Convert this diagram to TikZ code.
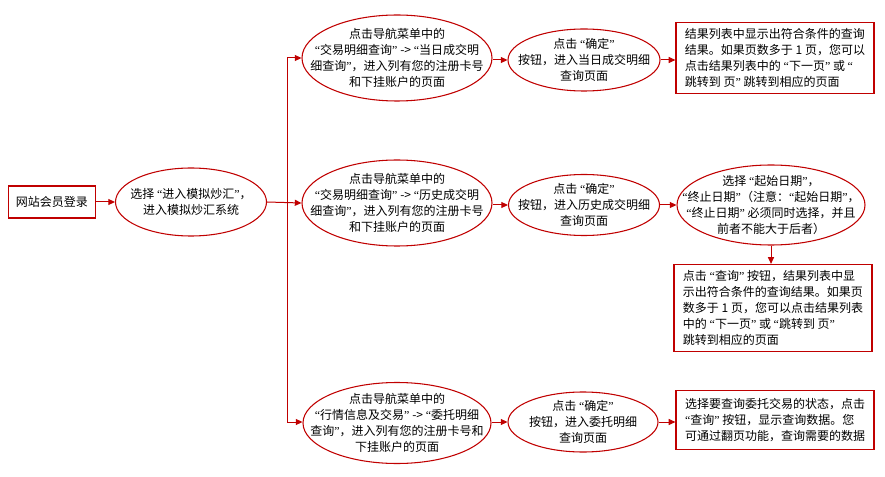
\documentclass[tikz,border=0pt]{standalone}
\usepackage{fontspec}
\setmainfont{Noto Sans CJK SC}
\newfontfamily\latf{Liberation Serif}
\newcommand\qo{{\latf “}}
\newcommand\qc{{\latf ”}}
\usetikzlibrary{shapes.geometric,arrows.meta}
\definecolor{dred}{HTML}{C00000}
\begin{document}
\begin{tikzpicture}[x=0.75pt,y=-0.75pt,
  font=\fontsize{9pt}{12pt}\selectfont,
  conn/.style={draw=dred,line width=0.75pt},
  arr/.style={conn,-{Triangle[length=5pt,width=4.5pt]}},
  rbox/.style={draw=dred,line width=0.9pt,rectangle,inner sep=0pt},
  ell/.style={draw=dred,line width=0.8pt,ellipse,inner sep=0pt},
  txt/.style={inner sep=0pt,align=center},
  ltxt/.style={inner sep=0pt,align=left}]
\useasboundingbox (0,0) rectangle (885,477);
% shapes
\node[rbox,minimum width=87*0.75pt,minimum height=32*0.75pt] (login) at (52,202) {};
\node[txt] (logint) at (login) {网站会员登录};
\node[ell,minimum width=151*0.75pt,minimum height=68*0.75pt] (e0) at (191,202) {};
\node[txt] (e0t) at (e0) {选择 \qo 进入模拟炒汇\qc，\\进入模拟炒汇系统};

\node[ell,minimum width=190*0.75pt,minimum height=86*0.75pt] (e1) at (397,58) {};
\node[txt] (e1t) at (e1) {点击导航菜单中的\\\qo 交易明细查询\qc{} -> \qo 当日成交明\\细查询\qc，进入列有您的注册卡号\\和下挂账户的页面};
\node[ell,minimum width=152*0.75pt,minimum height=62*0.75pt] (m1) at (584,60) {};
\node[txt] (m1t) at (m1) {点击 \qo 确定\qc\\按钮，进入当日成交明细\\查询页面};
\node[rbox,minimum width=198*0.75pt,minimum height=71*0.75pt] (b1) at (775,58) {};
\node[ltxt] (b1t) at (b1) {结果列表中显示出符合条件的查询\\结果。如果页数多于 1 页，您可以\\点击结果列表中的 \qo 下一页\qc{} 或 \qo\\跳转到 页\qc{} 跳转到相应的页面};

\node[ell,minimum width=190*0.75pt,minimum height=86*0.75pt] (e2) at (397,203) {};
\node[txt] (e2t) at (e2) {点击导航菜单中的\\\qo 交易明细查询\qc{} -> \qo 历史成交明\\细查询\qc，进入列有您的注册卡号\\和下挂账户的页面};
\node[ell,minimum width=151*0.75pt,minimum height=61*0.75pt] (m2) at (584,205) {};
\node[txt] (m2t) at (m2) {点击 \qo 确定\qc\\按钮，进入历史成交明细\\查询页面};
\node[ell,minimum width=188*0.75pt,minimum height=80*0.75pt] (r2) at (771,205) {};
\node[txt] (r2t) at (r2) {选择 \qo 起始日期\qc，\\\qo 终止日期\qc（注意：\qo 起始日期\qc，\\\qo 终止日期\qc{} 必须同时选择，并且\\前者不能大于后者）};
\node[rbox,minimum width=198*0.75pt,minimum height=87*0.75pt] (b2) at (773,308) {};
\node[ltxt] (b2t) at (b2) {点击 \qo 查询\qc{} 按钮，结果列表中显\\示出符合条件的查询结果。如果页\\数多于 1 页，您可以点击结果列表\\中的 \qo 下一页\qc{} 或 \qo 跳转到 页\qc\\跳转到相应的页面};

\node[ell,minimum width=188*0.75pt,minimum height=81*0.75pt] (e3) at (397,423) {};
\node[txt] (e3t) at (e3) {点击导航菜单中的\\\qo 行情信息及交易\qc{} -> \qo 委托明细\\查询\qc，进入列有您的注册卡号和\\下挂账户的页面};
\node[ell,minimum width=150*0.75pt,minimum height=60*0.75pt] (m3) at (583,422) {};
\node[txt] (m3t) at (m3) {点击 \qo 确定\qc\\按钮，进入委托明细\\查询页面};
\node[rbox,minimum width=198*0.75pt,minimum height=59*0.75pt] (b3) at (775,420) {};
\node[ltxt] (b3t) at (b3) {选择要查询委托交易的状态，点击\\\qo 查询\qc{} 按钮，显示查询数据。您\\可通过翻页功能，查询需要的数据};

% connectors
\coordinate (jt) at (287,58);
\coordinate (jb) at (287,422);
\draw[arr] (login) -- (e0);
\draw[conn] (jt) -- (jb);
\draw[arr] (e0.east) -- (e2.west);
\draw[arr] (jt) -- (e1.west);
\draw[arr] (jb) -- (e3.west |- jb);
\draw[arr] (e1.east |- m1.west) -- (m1.west);
\draw[arr] (m1.east) -- (b1.west |- m1.east);
\draw[arr] (e2.east |- m2.west) -- (m2.west);
\draw[arr] (m2.east) -- (r2.west |- m2.east);
\draw[arr] (r2.south) -- (b2.north -| r2.south);
\draw[arr] (e3.east |- m3.west) -- (m3.west);
\draw[arr] (m3.east) -- (b3.west |- m3.east);
\end{tikzpicture}
\end{document}
